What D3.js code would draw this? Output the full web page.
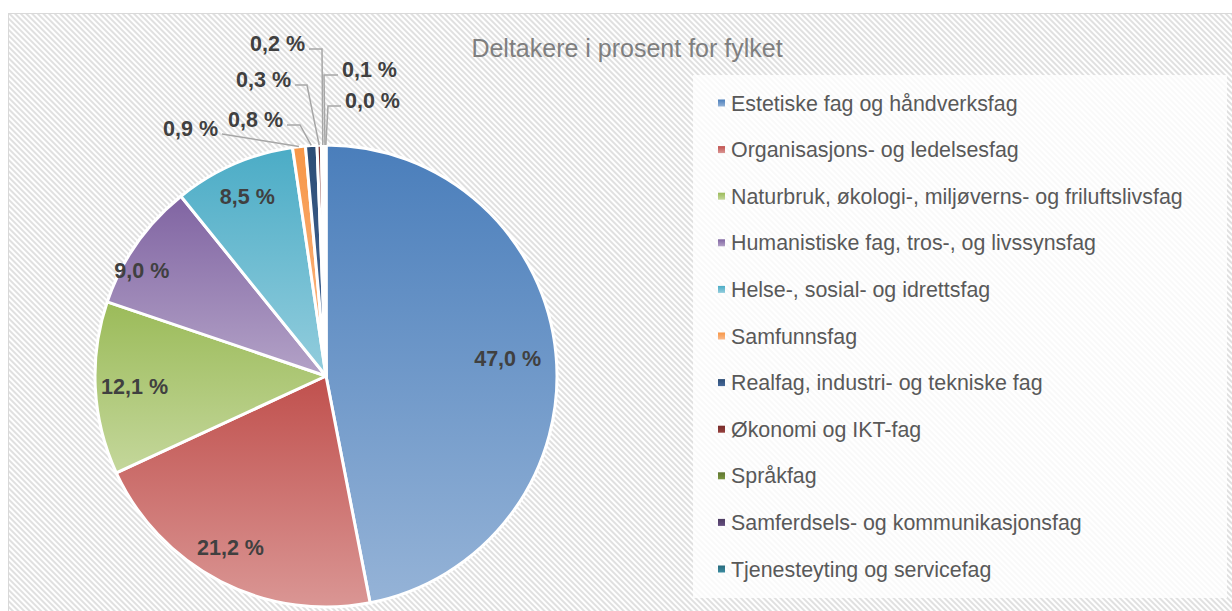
<!DOCTYPE html>
<html>
<head>
<meta charset="utf-8">
<script src="https://d3js.org/d3.v7.min.js"></script>
<style>
  body { margin: 0; background: #fff; }
  svg { display: block; }
  svg text { font-family: Arial, "Liberation Sans", Helvetica, sans-serif; }
</style>
</head>
<body>
<svg id="chart"></svg>
<script>
const title = "Deltakere i prosent for fylket";
const categories = [
  "Estetiske fag og håndverksfag",
  "Organisasjons- og ledelsesfag",
  "Naturbruk, økologi-, miljøverns- og friluftslivsfag",
  "Humanistiske fag, tros-, og livssynsfag",
  "Helse-, sosial- og idrettsfag",
  "Samfunnsfag",
  "Realfag, industri- og tekniske fag",
  "Økonomi og IKT-fag",
  "Språkfag",
  "Samferdsels- og kommunikasjonsfag",
  "Tjenesteyting og servicefag"
];
const values = [47.0, 21.2, 12.1, 9.0, 8.5, 0.9, 0.8, 0.3, 0.2, 0.1, 0.02];
const valueLabels = ["47,0 %", "21,2 %", "12,1 %", "9,0 %", "8,5 %", "0,9 %", "0,8 %", "0,3 %", "0,2 %", "0,1 %", "0,0 %"];
// gradient colours: top, bottom
const colorsTop = ["#4a7ebb", "#c0504d", "#9bbb59", "#8064a2", "#4bacc6", "#f79646", "#2c4d75", "#772c2a", "#5f7530", "#4d3b62", "#276a7c"];
const colorsBottom = ["#95b3d7", "#da9694", "#c4d79b", "#b3a2c7", "#93cddd", "#fab98a", "#47699a", "#96403d", "#7a9640", "#654f80", "#3b8ba0"];

const W = 1232, H = 611;
const cx = 326, cy = 376, r = 231;

const svg = d3.select("#chart").attr("width", W).attr("height", H);
const defs = svg.append("defs");

const hatch = defs.append("pattern")
  .attr("id", "hatch")
  .attr("patternUnits", "userSpaceOnUse")
  .attr("width", 4).attr("height", 4)
  .attr("patternTransform", "rotate(-45)");
hatch.append("rect").attr("width", 4).attr("height", 4).attr("fill", "#ffffff");
hatch.append("rect").attr("width", 2).attr("height", 4).attr("fill", "#e0e0e0");

categories.forEach((c, i) => {
  const g = defs.append("linearGradient")
    .attr("id", "grad" + i)
    .attr("x1", 0).attr("y1", 0).attr("x2", 0).attr("y2", 1);
  g.append("stop").attr("offset", "0%").attr("stop-color", colorsTop[i]);
  g.append("stop").attr("offset", "100%").attr("stop-color", colorsBottom[i]);
});

// chart area
svg.append("rect")
  .attr("x", 8.5).attr("y", 13.5)
  .attr("width", W).attr("height", H)
  .attr("fill", "url(#hatch)")
  .attr("stroke", "#d9d9d9");

svg.append("text")
  .attr("x", 627).attr("y", 57)
  .attr("text-anchor", "middle")
  .attr("font-size", 25)
  .attr("fill", "#7f7f7f")
  .text(title);

// pie
const pie = d3.pie().sort(null).value(d => d);
const arcs = pie(values);
const arc = d3.arc().innerRadius(0).outerRadius(r);
// label placement for the big slices: distance (fraction of radius) and angle shift (deg)
const labelRadius = [0.79, 0.85, 0.83, 0.92, 0.85];
const labelShift = [0, 2, 0, -5, 0];

const pg = svg.append("g").attr("transform", `translate(${cx},${cy})`);
pg.selectAll("path.slice")
  .data(arcs)
  .join("path")
  .attr("class", "slice")
  .attr("d", arc)
  .attr("fill", (d, i) => `url(#grad${i})`)
  .attr("stroke", "#fff")
  .attr("stroke-width", 3)
  .attr("stroke-linejoin", "round");

// inside labels
pg.selectAll("text.in")
  .data(arcs.filter(d => d.data >= 5))
  .join("text")
  .attr("class", "in")
  .attr("transform", (d, i) => {
    const rr = r * labelRadius[i];
    const a = (d.startAngle + d.endAngle) / 2 + labelShift[i] * Math.PI / 180;
    return `translate(${Math.sin(a) * rr},${-Math.cos(a) * rr})`;
  })
  .attr("text-anchor", "middle")
  .attr("dy", "0.35em")
  .attr("font-size", 21.5)
  .attr("font-weight", "bold")
  .attr("fill", "#404040")
  .text((d, i) => valueLabels[i]);

// outside labels for the small slices: label anchor offsets relative to pie center
const outside = [
  { i: 5, lx: -108, ly: -240, side: "end", seg: 0 },
  { i: 6, lx: -43, ly: -249, side: "end", seg: 13 },
  { i: 7, lx: -35, ly: -289, side: "end", seg: 12 },
  { i: 8, lx: -21, ly: -325, side: "end", seg: 13 },
  { i: 9, lx: 16, ly: -299, side: "start", seg: 14 },
  { i: 10, lx: 19, ly: -268, side: "start", seg: 13 }
];
outside.forEach(o => {
  const d = arcs[o.i];
  const a = (d.startAngle + d.endAngle) / 2;
  const ex = Math.sin(a) * r, ey = -Math.cos(a) * r;
  const sgn = o.side === "end" ? 1 : -1;
  const tx = o.lx + sgn * 4, ty = o.ly - 2;
  const pts = o.seg ? [[tx, ty], [tx + sgn * o.seg, ty], [ex, ey]] : [[tx, ty], [ex, ey]];
  pg.append("path")
    .attr("d", d3.line()(pts))
    .attr("fill", "none")
    .attr("stroke", "#a6a6a6")
    .attr("stroke-width", 1.5);
  pg.append("text")
    .attr("x", o.lx).attr("y", o.ly)
    .attr("text-anchor", o.side)
    .attr("font-size", 21.5)
    .attr("font-weight", "bold")
    .attr("fill", "#404040")
    .text(valueLabels[o.i]);
});

// legend
svg.append("rect")
  .attr("x", 693).attr("y", 75)
  .attr("width", 534).attr("height", 523)
  .attr("fill", "#fff").attr("opacity", 0.8);

const ly = d3.scalePoint().domain(categories).range([103, 569]);
const lg = svg.append("g").selectAll("g")
  .data(categories)
  .join("g")
  .attr("transform", d => `translate(718,${ly(d)})`);
lg.append("rect")
  .attr("x", 0).attr("y", -3.5)
  .attr("width", 7).attr("height", 7)
  .attr("fill", (d, i) => `url(#grad${i})`);
lg.append("text")
  .attr("x", 13).attr("dy", "0.35em")
  .attr("font-size", 21.4)
  .attr("fill", "#595959")
  .text(d => d);
</script>
</body>
</html>
